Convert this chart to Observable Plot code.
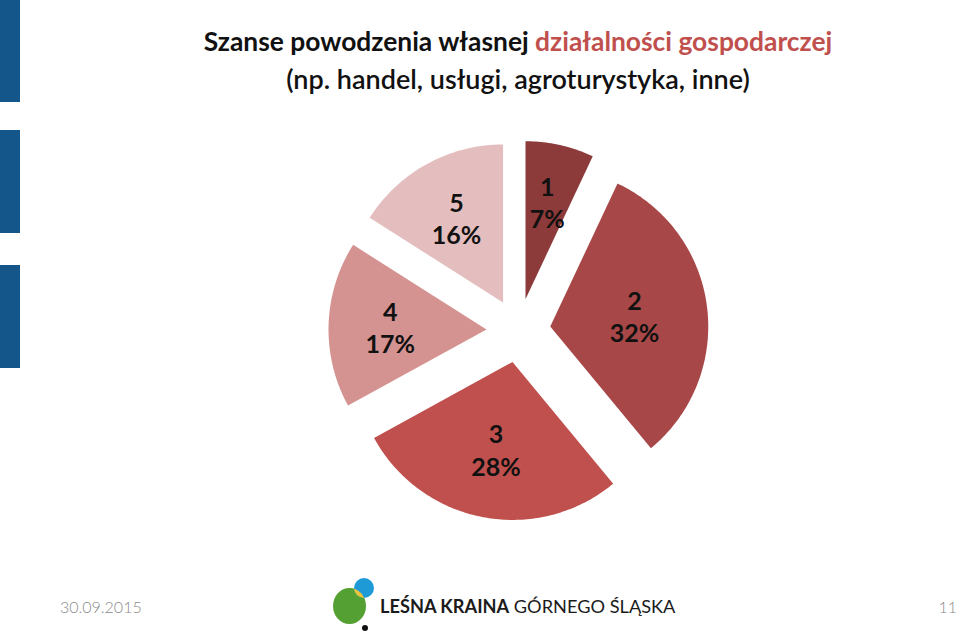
<!DOCTYPE html>
<html>
<head>
<meta charset="utf-8">
<script src="https://cdn.jsdelivr.net/npm/d3@7"></script>
<script src="https://cdn.jsdelivr.net/npm/@observablehq/plot@0.6"></script>
<style>
  html, body { margin: 0; padding: 0; background: #fff; }
  #page { position: relative; width: 960px; height: 634px; overflow: hidden; font-family: Lato, "Open Sans", sans-serif; }
  #chart { position: absolute; left: 0; top: 0; }
  .bar { position: absolute; left: 0; width: 20px; background: #145689; }
  #title { position: absolute; left: 118px; width: 800px; top: 23px; text-align: center; color: #111; }
  #title .l1 { font-weight: 700; font-size: 26.4px; line-height: 37px; }
  #title .l2 { font-weight: 600; font-size: 27px; line-height: 38px; }
  #title .red { color: #C0504D; }
  #date { position: absolute; left: 60px; top: 597px; font-size: 16px; color: #8a8a8a; font-weight: 300; }
  #pageno { position: absolute; right: 3px; top: 597px; font-size: 16px; color: #8a8a8a; font-weight: 300; }
  #brand { position: absolute; left: 380px; top: 595px; font-size: 18.2px; color: #1b1b1b; }
  #logo { position: absolute; left: 325px; top: 570px; }
</style>
</head>
<body>
<div id="page">
  <div class="bar" style="top:0;height:102px"></div>
  <div class="bar" style="top:130px;height:103px"></div>
  <div class="bar" style="top:265px;height:103px"></div>
  <div id="chart"></div>
  <div id="title">
    <div class="l1">Szanse powodzenia własnej <span class="red">działalności gospodarczej</span></div>
    <div class="l2">(np. handel, usługi, agroturystyka, inne)</div>
  </div>
  <div id="date">30.09.2015</div>
  <svg id="logo" width="55" height="64">
    <ellipse cx="24.5" cy="36" rx="16.5" ry="18" fill="#55A032"></ellipse>
    <circle cx="39" cy="18" r="10" fill="#1E9BD7"></circle>
    <clipPath id="cp"><circle cx="39" cy="18" r="10"></circle></clipPath>
    <ellipse cx="24.5" cy="36" rx="16.5" ry="18" fill="#E8C43A" clip-path="url(#cp)"></ellipse>
    <circle cx="40" cy="58" r="3" fill="#111"></circle>
  </svg>
  <div id="brand"><b>LEŚNA KRAINA</b> GÓRNEGO ŚLĄSKA</div>
  <div id="pageno">11</div>
</div>
<script>
// ---- data ----
const categories = ["1", "2", "3", "4", "5"];
const shares = [7, 32, 28, 17, 16];
const sliceColors = ["#8C3A3A", "#A84747", "#C0504D", "#D49391", "#E4BEBE"];

// ---- geometry (pie layout in px-like units) ----
const cx = 518, cy = 330, R = 158, explode = 32;
const total = d3.sum(shares);
const polys = [];
const labels = [];
let acc = 0;
shares.forEach((v, i) => {
  const a0 = acc / total * 2 * Math.PI;
  acc += v;
  const a1 = acc / total * 2 * Math.PI;
  const mid = (a0 + a1) / 2;
  const ox = cx + explode * Math.sin(mid), oy = cy - explode * Math.cos(mid);
  polys.push({key: categories[i], x: ox, y: oy});
  const n = Math.max(8, Math.ceil((a1 - a0) * 60));
  for (let k = 0; k <= n; k++) {
    const a = a0 + (a1 - a0) * k / n;
    polys.push({key: categories[i], x: ox + R * Math.sin(a), y: oy - R * Math.cos(a)});
  }
  const half = (a1 - a0) / 2;
  const rc = 0.96 * (2 / 3) * R * Math.sin(half) / half;
  labels.push({key: categories[i], share: v, x: ox + rc * Math.sin(mid), y: oy - rc * Math.cos(mid)});
});

const chart = Plot.plot({
  width: 960,
  height: 634,
  margin: 0,
  x: {domain: [0, 960], axis: null},
  y: {domain: [634, 0], axis: null},
  color: {domain: categories, range: sliceColors},
  marks: [
    Plot.line(polys, {x: "x", y: "y", z: "key", fill: "key", stroke: "none", curve: "linear-closed"}),
    Plot.text(labels, {
      x: "x", y: "y",
      text: d => `${d.key}\n${d.share}%`,
      fontSize: 25, fontWeight: "bold", lineHeight: 1.3,
      fontFamily: "Lato, 'Open Sans', sans-serif",
      fill: "#111"
    })
  ]
});
document.getElementById("chart").appendChild(chart);
</script>
</body>
</html>
